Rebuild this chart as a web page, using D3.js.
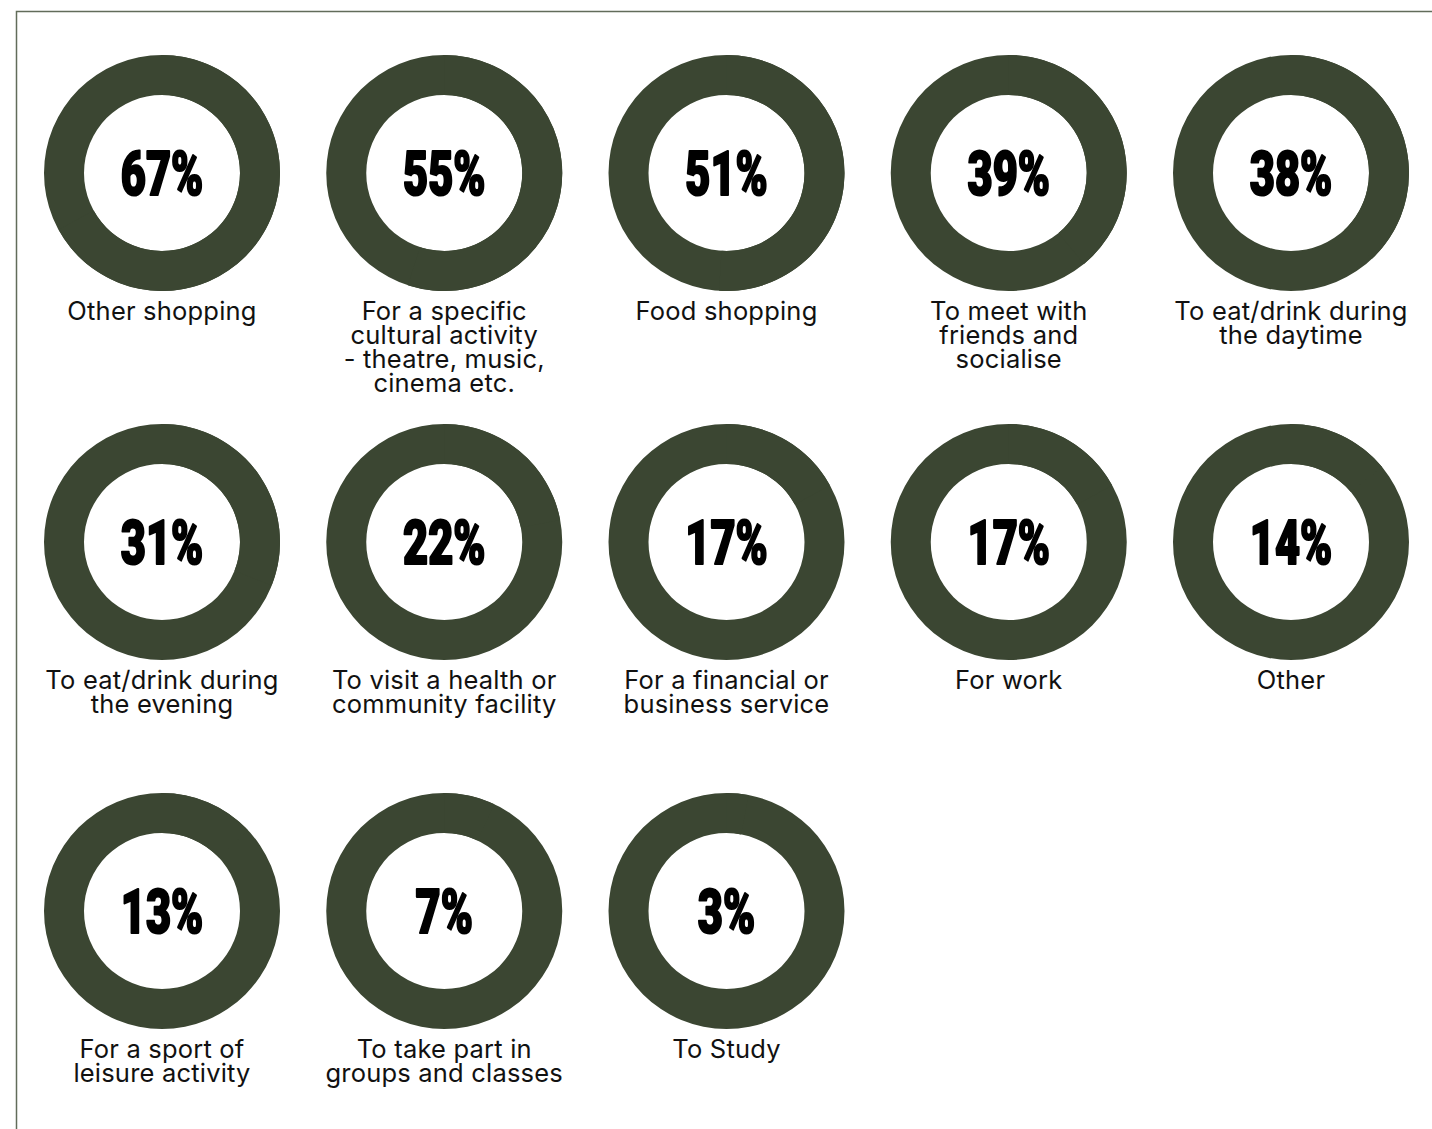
<!DOCTYPE html>
<html>
<head>
<meta charset="utf-8">
<script src="https://cdn.jsdelivr.net/npm/d3@7"></script>
<style>
  html, body { margin: 0; padding: 0; background: #ffffff; }
  svg { display: block; }
</style>
</head>
<body>
<svg id="chart" width="1432" height="1129"></svg>
<script>
// Reasons for visiting, share of respondents (%)
const categories = [
  "Other shopping",
  "For a specific\ncultural activity\n- theatre, music,\ncinema etc.",
  "Food shopping",
  "To meet with\nfriends and\nsocialise",
  "To eat/drink during\nthe daytime",
  "To eat/drink during\nthe evening",
  "To visit a health or\ncommunity facility",
  "For a financial or\nbusiness service",
  "For work",
  "Other",
  "For a sport of\nleisure activity",
  "To take part in\ngroups and classes",
  "To Study"
];
const values = [67, 55, 51, 39, 38, 31, 22, 17, 17, 14, 13, 7, 3];

const W = 1432, H = 1129;
const COLS = 5;
const ringColor = "#3b4632";
const outerR = 118, innerR = 78;

const svg = d3.select("#chart");

// frame: top and left rules
svg.append("path")
  .attr("d", `M16.5,${H} V11.5 H${W}`)
  .attr("fill", "none")
  .attr("stroke", "#626c5a")
  .attr("stroke-width", 1.5);

const x = d3.scalePoint().domain(d3.range(COLS)).range([162, 1291]);
const y = d3.scalePoint().domain(d3.range(Math.ceil(values.length / COLS))).range([173, 911]);
const share = d3.scaleLinear().domain([0, 100]).range([0, 2 * Math.PI]);

const arc = d3.arc().innerRadius(innerR).outerRadius(outerR);

const data = values.map((v, i) => ({ value: v, label: categories[i], col: i % COLS, row: Math.floor(i / COLS) }));

const cell = svg.selectAll("g.cell")
  .data(data)
  .join("g")
  .attr("class", "cell")
  .attr("transform", d => `translate(${x(d.col)},${y(d.row)})`);

// full track ring
cell.append("path")
  .attr("d", arc({ startAngle: 0, endAngle: 2 * Math.PI }))
  .attr("fill", ringColor);

// value arc
cell.append("path")
  .attr("d", d => arc({ startAngle: 0, endAngle: share(d.value) }))
  .attr("fill", ringColor);

// percentage in the centre (heavy, condensed)
cell.append("text")
  .attr("text-anchor", "middle")
  .attr("transform", "scale(0.7,1)")
  .attr("y", 22)
  .attr("font-family", "Roboto, 'DejaVu Sans', sans-serif")
  .attr("font-weight", 900)
  .attr("font-size", 62)
  .attr("fill", "#000")
  .attr("stroke", "#000")
  .attr("stroke-width", 2.2)
  .attr("stroke-linejoin", "round")
  .text(d => `${d.value}%`);

// category label under the ring
const lbl = cell.append("text")
  .attr("text-anchor", "middle")
  .attr("font-family", "Inter, 'Noto Sans', sans-serif")
  .attr("font-size", 25.5)
  .attr("letter-spacing", 0.2)
  .attr("fill", "#111");

lbl.selectAll("tspan")
  .data(d => d.label.split("\n"))
  .join("tspan")
  .attr("x", 0)
  .attr("y", (t, j) => outerR + 29 + j * 24)
  .text(t => t);
</script>
</body>
</html>
